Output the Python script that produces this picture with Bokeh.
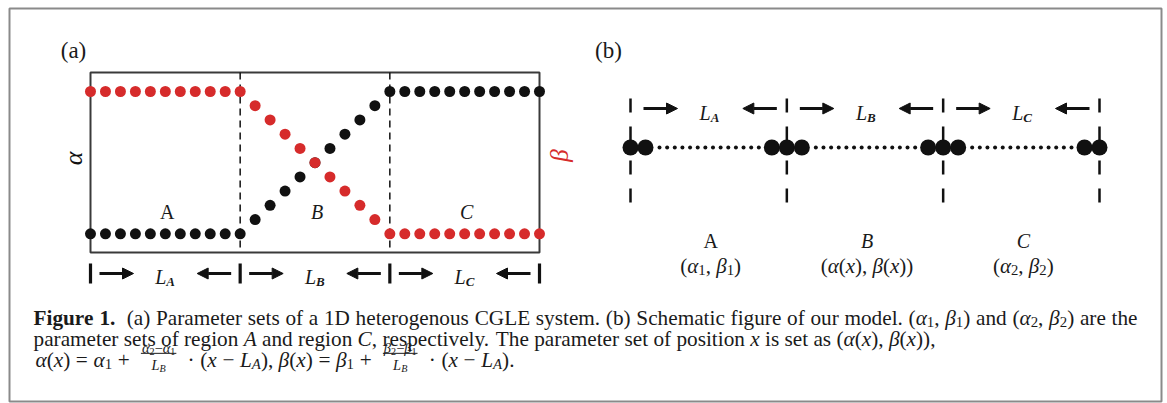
import glob
import os
import struct

from bokeh.plotting import figure
from bokeh.models import Range1d, ColumnDataSource, Arrow, NormalHead
from bokeh.core.properties import value
from bokeh.embed import file_html
from bokeh.resources import INLINE

# ---------------- data ----------------
positions = list(range(31))
alpha_vals = [0, 0, 0, 0, 0, 0, 0, 0, 0, 0, 0,
              0.1, 0.2, 0.3, 0.4, 0.5, 0.6, 0.7, 0.8, 0.9,
              1, 1, 1, 1, 1, 1, 1, 1, 1, 1, 1]
beta_vals = [1, 1, 1, 1, 1, 1, 1, 1, 1, 1, 1,
             0.9, 0.8, 0.7, 0.6, 0.5, 0.4, 0.3, 0.2, 0.1,
             0, 0, 0, 0, 0, 0, 0, 0, 0, 0, 0]
region_bounds = [0, 10, 20, 30]
region_names = ["A", "*B*", "*C*"]
length_subs = ["A", "B", "C"]
param_labels = ["(*α*_1, *β*_1)", "(*α*(*x*), *β*(*x*))", "(*α*_2, *β*_2)"]
panel_tags = ["(a)", "(b)"]

caption_l1 = ("**Figure 1.**  (a) Parameter sets of a 1D heterogenous CGLE system. (b) Schematic figure "
              "of our model. (*α*_1, *β*_1) and (*α*_2, *β*_2) are the")
caption_l2 = ("parameter sets of region *A* and region *C*, respectively. The parameter set of "
              "position *x* is set as (*α*(*x*), *β*(*x*)),")

# ---------------- font metrics (for laying out mixed-style text) ----------------
SERIF = "Liberation Serif"
FILES = {
    (SERIF, "normal"): "LiberationSerif-Regular.ttf",
    (SERIF, "italic"): "LiberationSerif-Italic.ttf",
    (SERIF, "bold"): "LiberationSerif-Bold.ttf",
    (SERIF, "bold italic"): "LiberationSerif-BoldItalic.ttf",
}
_cache = {}


def _find(fname):
    for d in ["/usr/share/fonts", "/usr/local/share/fonts", os.path.expanduser("~/.fonts"),
              os.path.expanduser("~/.local/share/fonts"), "/opt", "/usr/lib"]:
        hits = glob.glob(os.path.join(d, "**", fname), recursive=True)
        if hits:
            return hits[0]
    return None


def _parse(path):
    data = open(path, "rb").read()
    ntab = struct.unpack(">H", data[4:6])[0]
    tabs = {}
    for i in range(ntab):
        tag, _, off, ln = struct.unpack(">4sIII", data[12 + 16 * i:28 + 16 * i])
        tabs[tag.decode("latin1")] = off
    head, hhea, hmtx, cmap = tabs["head"], tabs["hhea"], tabs["hmtx"], tabs["cmap"]
    upem = struct.unpack(">H", data[head + 18:head + 20])[0]
    nhm = struct.unpack(">H", data[hhea + 34:hhea + 36])[0]
    adv = [struct.unpack(">H", data[hmtx + 4 * i:hmtx + 4 * i + 2])[0] for i in range(nhm)]
    nsub = struct.unpack(">H", data[cmap + 2:cmap + 4])[0]
    o = None
    for i in range(nsub):
        pid, eid, off = struct.unpack(">HHI", data[cmap + 4 + 8 * i:cmap + 12 + 8 * i])
        fmt = struct.unpack(">H", data[cmap + off:cmap + off + 2])[0]
        if fmt == 4 and (pid, eid) in ((3, 1), (0, 3), (0, 4), (0, 1)):
            o = cmap + off
            break
    seg2 = struct.unpack(">H", data[o + 6:o + 8])[0]
    n = seg2 // 2
    ends = struct.unpack(">%dH" % n, data[o + 14:o + 14 + seg2])
    starts = struct.unpack(">%dH" % n, data[o + 16 + seg2:o + 16 + 2 * seg2])
    deltas = struct.unpack(">%dh" % n, data[o + 16 + 2 * seg2:o + 16 + 3 * seg2])
    rpos = o + 16 + 3 * seg2
    roffs = struct.unpack(">%dH" % n, data[rpos:rpos + seg2])

    def gid(c):
        for i in range(n):
            if ends[i] >= c:
                if starts[i] > c:
                    return 0
                if roffs[i] == 0:
                    return (c + deltas[i]) & 0xFFFF
                addr = rpos + 2 * i + roffs[i] + 2 * (c - starts[i])
                g = struct.unpack(">H", data[addr:addr + 2])[0]
                return (g + deltas[i]) & 0xFFFF if g else 0
        return 0

    return upem, adv, gid


def measure(s, style, size, font=SERIF):
    key = (font, style)
    if key not in _cache:
        m = None
        path = _find(FILES[key]) if key in FILES else None
        if path:
            try:
                m = _parse(path)
            except Exception:
                m = None
        _cache[key] = m
    m = _cache[key]
    tot = 0.0
    for ch in s:
        w = None
        if m:
            upem, adv, gid = m
            g = gid(ord(ch))
            if g:
                w = adv[min(g, len(adv) - 1)] / upem
        if w is None:
            w = 0.25 if ch == " " else (0.68 if ch.isupper() else 0.48)
        tot += w
    return tot * size


def parse_markup(s, state=None):
    """'*..*' italic, '**..**' bold, '_c' one-char subscript. Returns runs (text, style, sub)."""
    st = state if state is not None else {"b": False, "i": False}
    runs, buf = [], ""

    def sty():
        if st["b"] and st["i"]:
            return "bold italic"
        return "bold" if st["b"] else ("italic" if st["i"] else "normal")

    i = 0
    while i < len(s):
        if s.startswith("**", i):
            if buf:
                runs.append((buf, sty(), False))
            buf = ""
            st["b"] = not st["b"]
            i += 2
        elif s[i] == "*":
            if buf:
                runs.append((buf, sty(), False))
            buf = ""
            st["i"] = not st["i"]
            i += 1
        elif s[i] == "_" and i + 1 < len(s):
            if buf:
                runs.append((buf, sty(), False))
            buf = ""
            runs.append((s[i + 1], "normal", True))
            i += 2
        else:
            buf += s[i]
            i += 1
    if buf:
        runs.append((buf, sty(), False))
    return runs


SUB_SCALE, SUB_DROP = 0.7, 0.22


def runs_width(runs, size):
    return sum(measure(t, st, size * (SUB_SCALE if sub else 1)) for t, st, sub in runs)


# ---------------- figure (the page itself has no margin) ----------------
W, H = 1167, 403
BLACK = "#111111"
RED = "#d62b2b"
TXT = "#1a1a1a"

p = figure(width=W, height=H, x_range=Range1d(0, W), y_range=Range1d(H, 0),
           output_backend="svg", toolbar_location=None, min_border=0,
           x_axis_type=None, y_axis_type=None)
p.outline_line_color = None
p.grid.visible = False
p.background_fill_color = "white"

QUEUE = {}


def put(x, y, s, size, style="normal", align="left", color=TXT, angle=0.0, baseline="alphabetic"):
    key = (style, round(size, 2), align, color, angle, baseline)
    QUEUE.setdefault(key, []).append((x, y, s))


def put_runs(x, y, runs, size, align="left", color=TXT):
    w = runs_width(runs, size)
    if align == "center":
        x -= w / 2
    elif align == "right":
        x -= w
    for t, st, sub in runs:
        sz = size * (SUB_SCALE if sub else 1)
        put(x, y + (SUB_DROP * size if sub else 0), t, sz, style=st, color=color)
        x += measure(t, st, sz)
    return w


def layout_line(line, x0, y, size, justify_to=None, draw=True):
    state = {"b": False, "i": False}
    words = line.split(" ")
    items, gaps, pending = [], [], 0
    for wd in words:
        if wd == "":
            pending += 1
            continue
        runs = parse_markup(wd, state)
        gaps.append(pending if items else 0)
        items.append(runs)
        pending = 1
    space = measure(" ", "normal", size)
    widths = [runs_width(r, size) for r in items]
    natural = sum(widths) + space * sum(gaps)
    if not draw:
        return natural
    extra = 0.0
    if justify_to is not None and sum(gaps):
        extra = (justify_to - x0 - natural) / sum(gaps)
    x = x0
    for runs, g, w in zip(items, gaps, widths):
        x += g * (space + extra)
        put_runs(x, y, runs, size)
        x += w
    return natural


def arrows(xs0, xs1, y):
    src = ColumnDataSource(dict(x0=xs0, x1=xs1, y0=[y] * len(xs0), y1=[y] * len(xs0)))
    p.add_layout(Arrow(end=NormalHead(size=11, fill_color=BLACK, line_color=BLACK, line_width=1),
                       x_start="x0", y_start="y0", x_end="x1", y_end="y1", source=src,
                       line_width=3, line_color=BLACK))


# outer frame
p.quad(left=[9], right=[1161], top=[8], bottom=[401],
       fill_alpha=0, line_color="#8a8a8a", line_width=2)

# ---------------- panel (a) ----------------
AX0, AX1 = 90, 539
AY_TOP, AY_BOT = 72, 252
Y_HI, Y_LO = 91, 233.3
kx = (AX1 - AX0) / (region_bounds[-1] - region_bounds[0])
ky = (Y_LO - Y_HI) / 1.0
sx = region_bounds[0] - AX0 / kx
sy = 0 - (H - Y_LO) / ky
p.extra_x_ranges = {"ax": Range1d(sx, sx + W / kx)}
p.extra_y_ranges = {"ay": Range1d(sy, sy + H / ky)}


def ax_px(v):
    return AX0 + (v - region_bounds[0]) * kx


p.quad(left=[AX0], right=[AX1], top=[AY_TOP], bottom=[AY_BOT], fill_alpha=0,
       line_color="#3a3a3a", line_width=2)
inner = [ax_px(b) for b in region_bounds[1:-1]]
p.segment(x0=inner, y0=[AY_TOP] * 2, x1=inner, y1=[AY_BOT] * 2, line_dash="7 5",
          line_width=1.5, line_color=BLACK)

p.scatter(positions, alpha_vals, x_range_name="ax", y_range_name="ay", size=11,
          fill_color=BLACK, line_color=None)
p.scatter(positions, beta_vals, x_range_name="ax", y_range_name="ay", size=11,
          fill_color=RED, line_color=None)

DS = 20  # diagram font size
for i, name in enumerate(region_names):
    cx = ax_px((region_bounds[i] + region_bounds[i + 1]) / 2)
    put_runs(cx + 2, 211, parse_markup(name), DS, align="center")

put(73, 158, "α", 26, style="italic", align="center", baseline="middle", color=BLACK, angle=1.5708)
put(559, 155, "β", 25, style="italic", align="center", baseline="middle", color=RED, angle=1.5708)
put(73, 50, panel_tags[0], 23, align="center")

bx = [ax_px(b) for b in region_bounds]
p.segment(x0=bx, y0=[263] * 4, x1=bx, y1=[283] * 4, line_width=3.2, line_color=BLACK)
arrows([b + 9 for b in bx[:-1]], [b + 43 for b in bx[:-1]], 273)
arrows([b - 9 for b in bx[1:]], [b - 43 for b in bx[1:]], 273)
for i, s in enumerate(length_subs):
    cx = (bx[i] + bx[i + 1]) / 2
    put(cx + 1, 276, "L", DS, style="italic", align="right")
    put(cx + 1, 281, s, 13, style="bold italic")

# ---------------- panel (b) ----------------
B0, B1 = 630, 1099
BY = 147
bb = [B0 + i * (B1 - B0) / 3 for i in range(4)]
put(608, 50, panel_tags[1], 23, align="center")

dash_y0 = [98, 126, 160, 188]
dash_y1 = [112, 140, 174, 202]
for b in bb:
    p.segment(x0=[b] * 4, y0=dash_y0, x1=[b] * 4, y1=dash_y1, line_width=2.5, line_color=BLACK)

big_x = []
for b in bb:
    for off in (-15, 0, 15):
        if B0 - 0.1 <= b + off <= B1 + 0.1:
            big_x.append(b + off)
p.scatter(big_x, [BY] * len(big_x), size=16, fill_color=BLACK, line_color=None)

small_x = []
for i in range(3):
    l, r = bb[i] + 29, bb[i + 1] - 28
    small_x += [l + j * (r - l) / 13 for j in range(14)]
p.scatter(small_x, [BY] * len(small_x), size=4, fill_color=BLACK, line_color=None)

arrows([b + 13 for b in bb[:-1]], [b + 47 for b in bb[:-1]], 108)
arrows([b - 10 for b in bb[1:]], [b - 44 for b in bb[1:]], 108)
for i, s in enumerate(length_subs):
    cx = (bb[i] + bb[i + 1]) / 2
    put(cx + 2, 112, "L", DS, style="italic", align="right")
    put(cx + 2, 117, s, 13, style="bold italic")
    put_runs(cx + 2, 240, parse_markup(region_names[i]), DS, align="center")
    put_runs(cx + 2, 265, parse_markup(param_labels[i]), 21, align="center")

# ---------------- caption ----------------
CX0, CX1 = 33, 1137
L2_END = 935
CS = (L2_END - CX0) / layout_line(caption_l2, CX0, 0, 1.0, draw=False)
L1, L2, L3 = 317, 338, 359
layout_line(caption_l1, CX0, L1, CS, justify_to=CX1)
layout_line(caption_l2, CX0, L2, CS)

# line 3: formula with two fractions
FS = CS * 0.68
n_, i_ = "normal", "italic"


def R(t, st=n_, sub=False):
    return ("run", [(t, st, sub)])


def OP(t):
    return ("op", [(t, n_, False)])


def FRAC(num, den):
    return ("frac", num, den)


formula = [
    R("α", i_), R("("), R("x", i_), R(")"), OP("="), R("α", i_), R("1", sub=True), OP("+"),
    FRAC([("α", i_, False), ("2", n_, True), ("−", n_, False), ("α", i_, False), ("1", n_, True)],
         [("L", i_, False), ("B", i_, True)]),
    OP("·"), R("("), R("x", i_), OP("−"), R("L", i_), R("A", i_, True), R("), "),
    R("β", i_), R("("), R("x", i_), R(")"), OP("="), R("β", i_), R("1", sub=True), OP("+"),
    FRAC([("β", i_, False), ("2", n_, True), ("−", n_, False), ("β", i_, False), ("1", n_, True)],
         [("L", i_, False), ("B", i_, True)]),
    OP("·"), R("("), R("x", i_), OP("−"), R("L", i_), R("A", i_, True), R(")."),
]
L3_END = 514


def item_w(it):
    if it[0] == "frac":
        return max(runs_width(it[1], FS), runs_width(it[2], FS)) + 2
    return runs_width(it[1], CS)


nat = sum(item_w(it) for it in formula)
n_ops = sum(1 for it in formula if it[0] in ("op", "frac"))
gap = max(1.5, (L3_END - 35 - nat) / (2 * n_ops))
x = 35
for it in formula:
    w = item_w(it)
    if it[0] == "run":
        put_runs(x, L3, it[1], CS)
        x += w
    elif it[0] == "op":
        x += gap
        put_runs(x, L3, it[1], CS)
        x += w + gap
    else:
        x += gap
        bar_y = L3 - 0.29 * CS
        p.segment(x0=[x], y0=[bar_y], x1=[x + w], y1=[bar_y], line_width=1, line_color=TXT)
        put_runs(x + w / 2, bar_y - 5, it[1], FS, align="center")
        put_runs(x + w / 2, bar_y + 2 + 0.68 * FS, it[2], FS, align="center")
        x += w + gap

# ---------------- emit text glyphs ----------------
for (style, size, align, color, angle, baseline), rows in QUEUE.items():
    p.text(x=[r[0] for r in rows], y=[r[1] for r in rows], text=[r[2] for r in rows],
           text_font=value(SERIF), text_font_size=f"{size}px", text_font_style=style,
           text_align=align, text_baseline=baseline, text_color=color, angle=angle)

open("out.html", "w").write(file_html(p, INLINE))
